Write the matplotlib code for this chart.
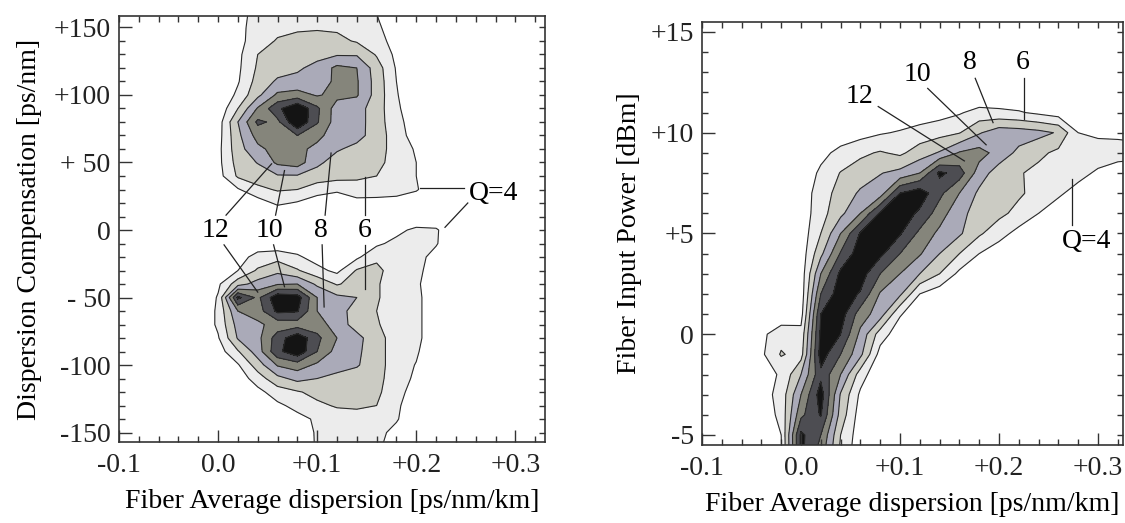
import numpy as np
import matplotlib.pyplot as plt
from matplotlib.ticker import MultipleLocator

plt.rcParams['font.family'] = ['Liberation Serif', 'DejaVu Serif']
plt.rcParams['font.size'] = 20

# ---- Q factor map, left panel ----
disp_left = [-0.02, 0.00, 0.02, 0.04, 0.06, 0.08, 0.10, 0.12, 0.14, 0.16, 0.18, 0.20, 0.22, 0.24, 0.26]
compensation = [160, 150, 140, 130, 120, 110, 100, 90, 80, 70, 60, 50, 40, 30, 20, 10, 0,
                -10, -20, -30, -40, -50, -60, -70, -80, -90, -100, -110, -120, -130, -140, -150, -160]
q_left = [
    [2, 2, 3.2, 4.8, 5.0, 5.3, 5.3, 5.2, 5.0, 4.0, 2.8, 2, 2, 2, 2],
    [2, 2, 3.3, 5.0, 5.4, 5.7, 5.8, 5.7, 5.3, 4.4, 2.8, 2, 2, 2, 2],
    [2, 2, 3.4, 5.0, 6.2, 6.6, 6.7, 6.5, 5.8, 4.8, 3.2, 2, 2, 2, 2],
    [2, 2, 3.5, 6.0, 6.8, 7.0, 7.4, 7.8, 7.8, 5.8, 3.5, 2, 2, 2, 2],
    [2, 2, 3.6, 6.3, 7.2, 7.7, 8.6, 10.5, 10.0, 7.0, 3.8, 2, 2, 2, 2],
    [2, 2, 3.8, 6.8, 8.3, 8.6, 8.8, 10.5, 10.2, 7.2, 4.0, 2, 2, 2, 2],
    [2, 2, 4.5, 7.5, 10.4, 10.8, 9.8, 10.6, 10.2, 7.2, 4.2, 2, 2, 2, 2],
    [2, 2.5, 6.0, 10.2, 13.5, 16.0, 12.4, 9.0, 8.8, 7.0, 4.4, 2.5, 2, 2, 2],
    [2, 3.0, 8.0, 12.4, 11.5, 16.0, 12.2, 9.0, 8.8, 7.0, 4.6, 3.0, 2, 2, 2],
    [2, 3.2, 7.5, 10.8, 11.4, 12.0, 10.6, 8.8, 8.6, 7.2, 4.8, 3.2, 2, 2, 2],
    [2, 3.4, 7.2, 9.5, 10.8, 10.6, 9.4, 8.2, 7.5, 7.0, 5.0, 3.8, 2, 2, 2],
    [2, 3.4, 6.8, 8.1, 10.4, 11.0, 8.4, 7.2, 7.0, 6.7, 5.0, 4.0, 2, 2, 2],
    [2, 3.2, 6.3, 7.0, 7.8, 7.8, 7.2, 6.8, 6.3, 6.0, 5.0, 4.0, 2, 2, 2],
    [2, 2.5, 3.8, 5.5, 6.2, 6.0, 4.8, 4.3, 5.3, 5.0, 4.8, 4.2, 2.5, 2, 2],
    [2, 2, 2.3, 3.0, 4.4, 3.8, 3.0, 2.8, 3.2, 3.3, 3.2, 2.6, 2, 2, 2],
    [2, 2, 2, 2, 2, 2, 2, 2, 2, 2, 2, 2, 2, 2, 2],
    [2, 2, 2, 2, 2, 2, 2, 2, 2, 2.4, 3.4, 4.5, 4.3, 2, 2],
    [2, 2, 2, 3.0, 2.5, 2.8, 2.4, 2.4, 2.6, 3.6, 4.6, 4.6, 4.2, 2, 2],
    [2, 2, 3.3, 4.6, 5.3, 4.3, 3.2, 3.0, 3.6, 5.6, 5.0, 4.8, 3.2, 2, 2],
    [2, 2, 4.0, 6.3, 7.5, 6.2, 4.6, 3.5, 6.2, 6.5, 5.0, 4.8, 2.5, 2, 2],
    [2, 3.6, 7.2, 8.8, 9.8, 10.0, 7.6, 5.8, 6.8, 6.2, 5.0, 4.4, 2.5, 2, 2],
    [2, 4.2, 14.5, 11.5, 15.5, 15.0, 10.0, 8.5, 8.0, 6.2, 5.0, 4.6, 2.5, 2, 2],
    [2, 4.4, 10.0, 11.0, 14.5, 14.2, 10.0, 8.6, 7.4, 6.0, 5.0, 4.6, 2.5, 2, 2],
    [2, 4.4, 8.8, 9.6, 10.8, 11.0, 11.0, 9.0, 7.2, 6.2, 5.0, 4.6, 2.5, 2, 2],
    [2, 3.8, 8.2, 9.4, 13.0, 15.5, 12.5, 10.0, 8.6, 6.8, 5.0, 4.6, 2.5, 2, 2],
    [2, 3.0, 5.8, 9.0, 13.5, 15.5, 12.0, 9.2, 8.4, 6.8, 5.0, 4.3, 2.2, 2, 2],
    [2, 2.5, 3.8, 7.0, 10.2, 11.0, 9.6, 8.8, 8.2, 6.8, 5.0, 3.9, 2, 2, 2],
    [2, 2, 2.8, 5.0, 7.4, 8.6, 8.0, 7.4, 7.0, 6.6, 5.0, 3.6, 2, 2, 2],
    [2, 2, 2.2, 3.4, 5.0, 5.8, 6.6, 6.8, 6.8, 6.4, 4.8, 3.0, 2, 2, 2],
    [2, 2, 2, 2.4, 3.6, 4.6, 5.6, 6.2, 6.3, 6.0, 4.4, 2.6, 2, 2, 2],
    [2, 2, 2, 2, 2.6, 3.4, 4.3, 5.0, 5.2, 5.0, 4.2, 2.4, 2, 2, 2],
    [2, 2, 2, 2, 2.2, 3.0, 4.2, 4.8, 4.8, 4.6, 3.4, 2.2, 2, 2, 2],
    [2, 2, 2, 2, 2.1, 2.8, 4.2, 4.6, 4.6, 4.4, 3.0, 2.0, 2, 2, 2],
]

# ---- Q factor map, right panel ----
disp_right = [-0.06, -0.04, -0.02, 0.00, 0.02, 0.04, 0.06, 0.08, 0.10, 0.12, 0.14,
              0.16, 0.18, 0.20, 0.22, 0.24, 0.26, 0.28, 0.30, 0.32, 0.34]
power = [13, 12, 11, 10, 9, 8, 7, 6, 5, 4, 3, 2, 1, 0, -1, -2, -3, -4, -5, -6]
q_right = [
    [2] * 21,
    [2] * 21,
    [2, 2, 2, 2, 2, 2, 2, 2.2, 2.5, 2.8, 3.2, 3.8, 4.7, 4.5, 4.2, 3.6, 3.0, 2.6, 2.4, 2.3, 2.2],
    [2, 2, 2, 2, 2.5, 2.8, 3.2, 3.8, 4.2, 4.8, 5.3, 5.9, 7.8, 9.2, 9.0, 8.6, 7.8, 4.0, 3.6, 3.4, 3.2],
    [2, 2, 2, 2.5, 3.4, 4.6, 5.6, 6.2, 5.6, 7.0, 8.2, 10.2, 10.8, 9.2, 7.5, 6.5, 5.5, 5.0, 5.0, 5.2, 5.0],
    [2, 2, 2, 2.5, 4.4, 6.1, 7.0, 7.9, 8.6, 10.0, 14.5, 13.0, 9.0, 7.0, 6.2, 5.4, 5.0, 4.6, 3.7, 2.5, 2.2],
    [2, 2, 2, 2.8, 5.0, 6.8, 8.3, 9.0, 14.0, 15.2, 12.5, 10.0, 7.6, 7.0, 6.3, 5.3, 4.3, 3.3, 2.5, 2, 2],
    [2, 2, 2, 2.8, 5.2, 7.5, 10.0, 14.3, 15.2, 13.6, 11.0, 8.5, 7.3, 6.5, 5.4, 4.0, 3.0, 2.5, 2, 2, 2],
    [2, 2, 2, 2.8, 6.0, 10.0, 14.2, 15.2, 14.2, 11.5, 9.5, 8.3, 6.3, 4.8, 3.3, 2.5, 2, 2, 2, 2, 2],
    [2, 2, 2, 2.8, 7.5, 12.2, 15.2, 14.5, 12.0, 10.2, 8.0, 6.0, 4.0, 2.8, 2.2, 2, 2, 2, 2, 2, 2],
    [2, 2, 2, 2.8, 10.0, 14.5, 15.0, 12.0, 10.0, 8.0, 6.0, 3.5, 2.5, 2, 2, 2, 2, 2, 2, 2, 2],
    [2, 2, 2, 2.8, 12.0, 15.2, 13.8, 9.8, 8.4, 4.0, 2.8, 2, 2, 2, 2, 2, 2, 2, 2, 2, 2],
    [2, 2, 2.5, 3.2, 14.0, 15.0, 11.0, 9.0, 4.2, 2.6, 2, 2, 2, 2, 2, 2, 2, 2, 2, 2, 2],
    [2, 3.5, 5.2, 4.6, 14.5, 14.0, 9.5, 5.0, 2.8, 2, 2, 2, 2, 2, 2, 2, 2, 2, 2, 2, 2],
    [2, 3.6, 6.2, 5.2, 15.0, 12.0, 8.5, 3.2, 2.2, 2, 2, 2, 2, 2, 2, 2, 2, 2, 2, 2, 2],
    [2, 3.3, 4.2, 8.0, 13.5, 10.0, 5.0, 2.2, 2, 2, 2, 2, 2, 2, 2, 2, 2, 2, 2, 2, 2],
    [2, 3.0, 4.8, 10.0, 15.0, 7.8, 3.6, 2, 2, 2, 2, 2, 2, 2, 2, 2, 2, 2, 2, 2, 2],
    [2, 2.6, 4.6, 11.5, 14.2, 7.2, 3.0, 2, 2, 2, 2, 2, 2, 2, 2, 2, 2, 2, 2, 2, 2],
    [2, 2.3, 4.0, 14.5, 12.0, 6.0, 2.8, 2, 2, 2, 2, 2, 2, 2, 2, 2, 2, 2, 2, 2, 2],
    [2, 2.2, 3.8, 14.5, 11.0, 5.5, 2.6, 2, 2, 2, 2, 2, 2, 2, 2, 2, 2, 2, 2, 2, 2],
]

q_levels = [4, 6, 8, 10, 12, 14, 20]
shades = ['#ececec', '#cbcbc3', '#aaaab8', '#85857b', '#4d4d52', '#141414']

x_ticks = [-0.1, 0.0, 0.1, 0.2, 0.3]
x_ticklabels = ['-0.1', '0.0', '+0.1', '+0.2', '+0.3']
comp_ticks = [-150, -100, -50, 0, 50, 100, 150]
comp_ticklabels = ['-150', '-100', '- 50', '0', '+ 50', '+100', '+150']
power_ticks = [-5, 0, 5, 10, 15]
power_ticklabels = ['-5', '0', '+5', '+10', '+15']


def draw_map(ax, x, y, q):
    q = np.array(q, dtype=float)
    ax.contourf(x, y, q, levels=q_levels, colors=shades)
    ax.contour(x, y, q, levels=q_levels[:-1], colors='#2a2a2a', linewidths=0.8)


def style_axes(ax, ymin_step):
    ax.xaxis.set_minor_locator(MultipleLocator(0.02))
    ax.yaxis.set_minor_locator(MultipleLocator(ymin_step))
    ax.tick_params(which='both', direction='in', top=True, right=True, width=1, colors='#333333',
                   labelcolor='#222222', labelsize=20)
    ax.tick_params(which='major', length=9)
    ax.tick_params(which='minor', length=4)
    ax.tick_params(axis='x', pad=8)
    ax.tick_params(axis='y', pad=6)
    # short marks on top and right side
    for t in ax.xaxis.get_major_ticks() + ax.yaxis.get_major_ticks():
        t.tick2line.set_markersize(4)
    for s in ax.spines.values():
        s.set_linewidth(1.2)
        s.set_color('#333333')


def leader(ax, start, end):
    ax.plot([start[0], end[0]], [start[1], end[1]], color='#222222', lw=0.9)


fig = plt.figure(figsize=(11.25, 5.23), dpi=100)

# left panel
axL = fig.add_axes([0.1058, 0.1549, 0.3787, 0.8145])
draw_map(axL, disp_left, compensation, q_left)
axL.set_xlim(-0.1, 0.33)
axL.set_ylim(-157, 158.5)
axL.set_xticks(x_ticks, x_ticklabels)
axL.set_yticks(comp_ticks, comp_ticklabels)
style_axes(axL, 10)
axL.set_xlabel('Fiber Average dispersion [ps/nm/km]', labelpad=8)
axL.set_ylabel('Dispersion Compensation [ps/nm]', labelpad=8)

for txt, (tx, ty), up, down in [
        ('12', (-0.003, 0), ((0.008, 11), (0.054, 49)), ((0.006, -11), (0.04, -46))),
        ('10', (0.052, 0), ((0.058, 11), (0.067, 44)), ((0.056, -11), (0.067, -42))),
        ('8', (0.104, 0), ((0.108, 11), (0.114, 57)), ((0.105, -11), (0.107, -57))),
        ('6', (0.148, 0), ((0.148, 11), (0.148, 39)), ((0.148, -11), (0.148, -44)))]:
    axL.text(tx, ty, txt, ha='center', va='center')
    leader(axL, *up)
    leader(axL, *down)
axL.text(0.278, 27, 'Q=4', ha='center', va='center')
leader(axL, (0.248, 31), (0.204, 31))
leader(axL, (0.252, 20), (0.229, 2))

# right panel
axR = fig.add_axes([0.624, 0.1491, 0.374, 0.809])
draw_map(axR, disp_right, power, q_right)
axR.set_xlim(-0.1, 0.325)
axR.set_ylim(-5.5, 15.5)
axR.set_xticks(x_ticks, x_ticklabels)
axR.set_yticks(power_ticks, power_ticklabels)
style_axes(axR, 1)
axR.set_xlabel('Fiber Average dispersion [ps/nm/km]', labelpad=8)
axR.set_ylabel('Fiber Input Power [dBm]', labelpad=6)

for txt, (tx, ty), start, end in [
        ('12', (0.059, 11.8), (0.078, 11.3), (0.165, 8.6)),
        ('10', (0.118, 12.9), (0.128, 12.2), (0.187, 9.4)),
        ('8', (0.171, 13.5), (0.176, 12.7), (0.194, 10.5)),
        ('6', (0.224, 13.5), (0.225, 12.7), (0.225, 10.7)),
        ('Q=4', (0.288, 4.6), (0.274, 5.4), (0.274, 7.7))]:
    axR.text(tx, ty, txt, ha='center', va='center')
    leader(axR, start, end)

fig.savefig('out.png', dpi=100)
